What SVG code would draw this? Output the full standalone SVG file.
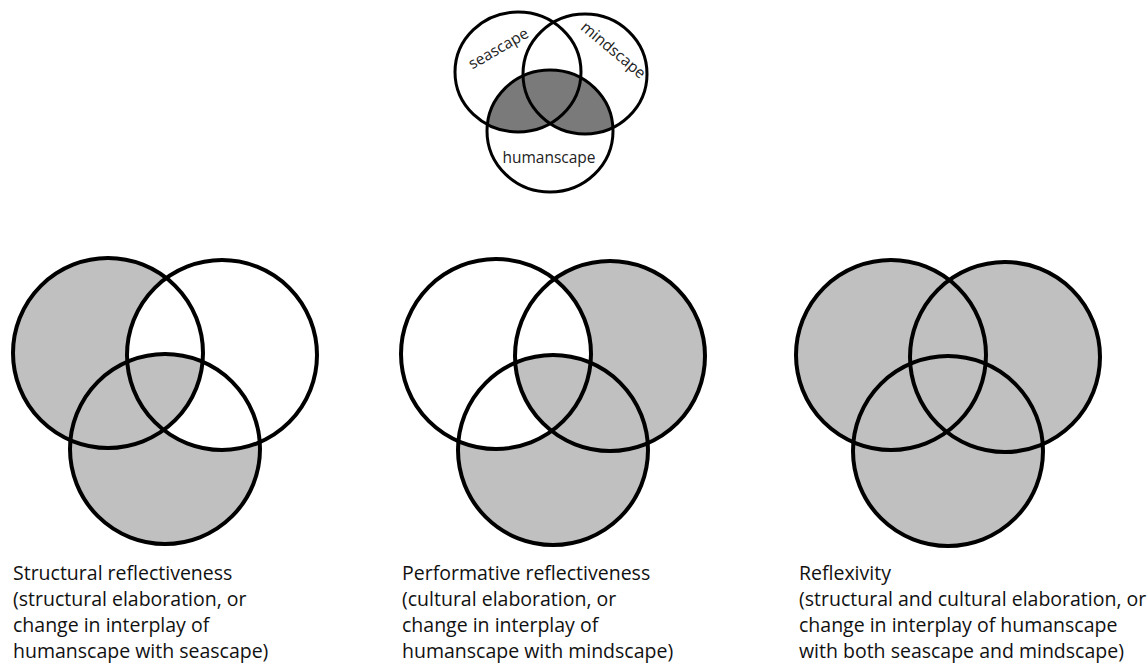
<svg xmlns="http://www.w3.org/2000/svg" width="1148" height="663" viewBox="0 0 1148 663">
<style>
.ring{fill:none;stroke:#000;stroke-width:4}
.sring{fill:none;stroke:#000;stroke-width:3}
.lg{fill:#c0c0c0}
.dg{fill:#7a7a7a}
.wh{fill:#fff}
.cap{font-family:"Open Sans","Liberation Sans",sans-serif;font-size:19.5px;fill:#111}
.lab{font-family:"Open Sans","Liberation Sans",sans-serif;font-size:15.5px;fill:#222}
</style>
<defs>
<clipPath id="tUnion"><ellipse cx="518" cy="72" rx="63" ry="60"/><ellipse cx="585" cy="74" rx="62" ry="60"/></clipPath>
<clipPath id="lB"><circle cx="222" cy="355" r="95"/></clipPath>
<clipPath id="lC"><circle cx="165" cy="449" r="95"/></clipPath>
<clipPath id="mA"><circle cx="496" cy="354" r="95"/></clipPath>
<clipPath id="mC"><circle cx="553" cy="450" r="95"/></clipPath>
</defs>
<rect width="1148" height="663" fill="#fff"/>

<g id="top-venn">
<ellipse cx="550" cy="131" rx="63" ry="61" class="dg" clip-path="url(#tUnion)"/>
<ellipse class="sring" cx="518" cy="72" rx="63" ry="60"/>
<ellipse class="sring" cx="585" cy="74" rx="62" ry="60"/>
<ellipse class="sring" cx="550" cy="131" rx="63" ry="61"/>
<text class="lab" transform="translate(501,53) rotate(-30)" text-anchor="middle">seascape</text>
<text class="lab" transform="translate(610,54) rotate(40)" text-anchor="middle">mindscape</text>
<text class="lab" x="549" y="163" text-anchor="middle">humanscape</text>
</g>

<g id="venn-structural">
<circle cx="108" cy="353" r="95" class="lg"/>
<circle cx="165" cy="449" r="95" class="lg"/>
<circle cx="222" cy="355" r="95" class="wh"/>
<g clip-path="url(#lB)"><circle cx="108" cy="353" r="95" class="lg" clip-path="url(#lC)"/></g>
<circle cx="108" cy="353" r="95" class="ring"/>
<circle cx="222" cy="355" r="95" class="ring"/>
<circle cx="165" cy="449" r="95" class="ring"/>
<text class="cap"><tspan x="13" y="580">Structural reflectiveness</tspan><tspan x="13" y="606">(structural elaboration, or</tspan><tspan x="13" y="632">change in interplay of</tspan><tspan x="13" y="658">humanscape with seascape)</tspan></text>
</g>

<g id="venn-performative">
<circle cx="610" cy="356" r="95" class="lg"/>
<circle cx="553" cy="450" r="95" class="lg"/>
<circle cx="496" cy="354" r="95" class="wh"/>
<g clip-path="url(#mA)"><circle cx="610" cy="356" r="95" class="lg" clip-path="url(#mC)"/></g>
<circle cx="496" cy="354" r="95" class="ring"/>
<circle cx="610" cy="356" r="95" class="ring"/>
<circle cx="553" cy="450" r="95" class="ring"/>
<text class="cap"><tspan x="402" y="580">Performative reflectiveness</tspan><tspan x="402" y="606">(cultural elaboration, or</tspan><tspan x="402" y="632">change in interplay of</tspan><tspan x="402" y="658">humanscape with mindscape)</tspan></text>
</g>

<g id="venn-reflexivity">
<circle cx="891" cy="355" r="95" class="lg"/>
<circle cx="1005" cy="357" r="95" class="lg"/>
<circle cx="948" cy="451" r="95" class="lg"/>
<circle cx="891" cy="355" r="95" class="ring"/>
<circle cx="1005" cy="357" r="95" class="ring"/>
<circle cx="948" cy="451" r="95" class="ring"/>
<text class="cap"><tspan x="799" y="580">Reflexivity</tspan><tspan x="799" y="606">(structural and cultural elaboration, or</tspan><tspan x="799" y="632">change in interplay of humanscape</tspan><tspan x="799" y="658">with both seascape and mindscape)</tspan></text>
</g>

<g id="connectors"></g>
</svg>
